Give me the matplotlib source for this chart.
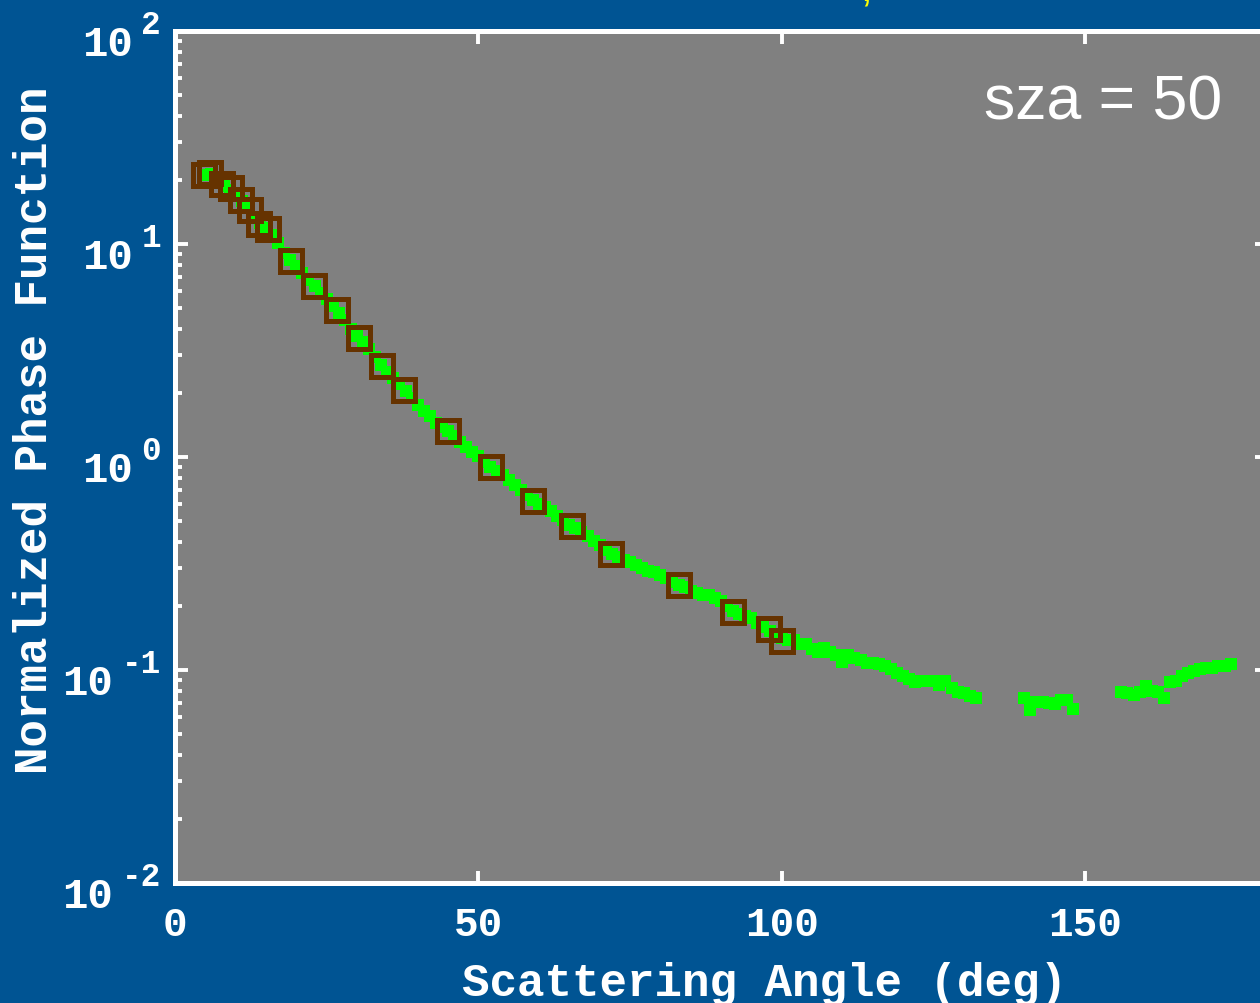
import matplotlib.pyplot as plt
import matplotlib.transforms as mtransforms
import numpy as np
from matplotlib.ticker import LogLocator, NullLocator

BG = "#005493"
PANEL = "#808080"
MONO = "Liberation Mono"

# all-angle phase function (green filled squares), three segments
green_ang_a = list(range(5, 133))
green_val_a = [
    21.0, 21.3, 19.8, 18.8, 18.0, 17.0, 16.0, 14.8, 13.4, 12.5,
    11.9, 11.0, 10.1, 9.1, 8.4, 7.9, 7.3, 6.8, 6.35, 5.9,
    5.5, 5.1, 4.75, 4.4, 4.0, 3.7, 3.45, 3.2, 2.95, 2.7,
    2.5, 2.35, 2.2, 2.05, 1.9, 1.75, 1.65, 1.55, 1.45, 1.38,
    1.32, 1.25, 1.18, 1.12, 1.06, 1.01, 0.95, 0.90, 0.86, 0.82,
    0.78, 0.74, 0.70, 0.66, 0.625, 0.60, 0.58, 0.555, 0.53, 0.505,
    0.48, 0.465, 0.445, 0.425, 0.405, 0.385, 0.365, 0.35, 0.34, 0.33,
    0.32, 0.31, 0.30, 0.292, 0.287, 0.278, 0.27, 0.26, 0.252, 0.245,
    0.236, 0.229, 0.226, 0.224, 0.218, 0.21, 0.200, 0.19, 0.184, 0.179,
    0.175, 0.167, 0.16, 0.152, 0.146, 0.141, 0.139, 0.138, 0.132, 0.132,
    0.126, 0.122, 0.127, 0.122, 0.1175, 0.109, 0.117, 0.1135, 0.1117, 0.108,
    0.108, 0.1067, 0.1047, 0.101, 0.0968, 0.094, 0.0907, 0.0881, 0.089, 0.0892,
    0.089, 0.0851, 0.0892, 0.082, 0.0786, 0.078, 0.0753, 0.0739,
]
green_ang_b = list(range(140, 149))
green_val_b = [0.0736, 0.0652, 0.0705, 0.0705, 0.0701, 0.0692, 0.0723, 0.0723, 0.0656]
green_ang_c = list(range(156, 175))
green_val_c = [
    0.0791, 0.0780, 0.0764, 0.0791, 0.0843, 0.0800, 0.0785, 0.0741, 0.0875, 0.0891,
    0.0933, 0.0968, 0.0992, 0.1009, 0.1019, 0.1026, 0.1041, 0.1047, 0.1071,
]

# sza = 50 points (brown open squares)
brown_ang = [4.7, 5.8, 7.75, 9.2, 10.8, 12.3, 13.8, 15.3, 19.2, 22.9, 26.7, 30.4,
             34.1, 37.8, 45.05, 52.1, 59.0, 65.4, 71.9, 83.1, 92.0, 97.9, 100.0]
brown_val = [21.1, 21.5, 19.1, 18.4, 16.1, 14.4, 12.4, 11.8, 8.32, 6.37, 4.90, 3.62,
             2.67, 2.07, 1.32, 0.897, 0.621, 0.474, 0.351, 0.251, 0.187, 0.156, 0.137]

x_ticks = [0, 50, 100, 150]
y_decades = [-2, -1, 0, 1, 2]

W, H = 1260, 1004
fig = plt.figure(figsize=(W / 100, H / 100), dpi=100, facecolor=BG)
# axes run past the right edge of the figure, as in the cropped original
ax = fig.add_axes([175 / W, 1 - 884 / H, 1092 / W, 852 / H])
ax.set_facecolor(PANEL)

ax.plot(green_ang_a + green_ang_b + green_ang_c,
        green_val_a + green_val_b + green_val_c,
        ls="none", marker="s", ms=8.6, mew=0, color="#00ff00", zorder=3)
ax.plot(brown_ang, brown_val, ls="none", marker="s", ms=15.6, mew=3.6,
        mfc="none", mec="#663300", zorder=4)

ax.set_yscale("log")
ax.set_xlim(0, 180)
ax.set_ylim(1e-2, 1e2)

for sp in ax.spines.values():
    sp.set_color("white")
    sp.set_linewidth(3.6)
ax.tick_params(which="both", direction="in", colors="white", top=True, right=True)
ax.tick_params(which="major", length=9, width=2.8)
ax.tick_params(which="minor", length=5, width=2.8)
ax.set_xticks(x_ticks)
ax.xaxis.set_minor_locator(NullLocator())
ax.yaxis.set_major_locator(LogLocator(base=10))
ax.yaxis.set_minor_locator(LogLocator(base=10, subs=np.arange(2, 10)))
ax.set_xticklabels([str(t) for t in x_ticks], fontfamily=MONO, fontweight="bold",
                   fontsize=29.5, color="white")
ax.tick_params(axis="x", pad=16)
ax.tick_params(axis="y", labelleft=False)

# y tick labels as "10" + raised exponent
exp_fs = 23.5
exp_adv = 0.6 * exp_fs * 100 / 72
for d in y_decades:
    ex = str(d)
    ex_right = 161
    base_right = ex_right - len(ex) * exp_adv - 9
    tb = mtransforms.blended_transform_factory(fig.transFigure, ax.transData)
    off_b = mtransforms.ScaledTranslation(0, -24 / 100, fig.dpi_scale_trans)
    off_e = mtransforms.ScaledTranslation(0, -2 / 100, fig.dpi_scale_trans)
    ax.text(base_right / W, 10.0 ** d, "10", transform=tb + off_b, ha="right",
            va="baseline", fontfamily=MONO, fontweight="bold", fontsize=30.5,
            color="white", clip_on=False)
    ax.text(ex_right / W, 10.0 ** d, ex, transform=tb + off_e, ha="right",
            va="baseline", fontfamily=MONO, fontweight="bold", fontsize=exp_fs,
            color="white", clip_on=False)

fig.text(764 / W, 8 / H, "Scattering Angle (deg)", ha="center", va="baseline",
         fontfamily=MONO, fontweight="bold", fontsize=33, color="white")
fig.text(35 / W, 1 - 430 / H, "Normalized Phase Function", rotation=90,
         ha="center", va="center", fontfamily=MONO, fontweight="bold",
         fontsize=33, color="white")

fig.text(1222 / W, 1 - 120 / H, "sza = 50", ha="right", va="baseline",
         fontfamily="Liberation Sans", fontsize=45, color="white")

# tail of the yellow title that is cut off above the figure
fig.text(866 / W, 1.0, ",", ha="center", va="baseline", fontfamily="Liberation Sans",
         fontsize=30, color="yellow")

fig.savefig("out.png", dpi=100, facecolor=BG)
